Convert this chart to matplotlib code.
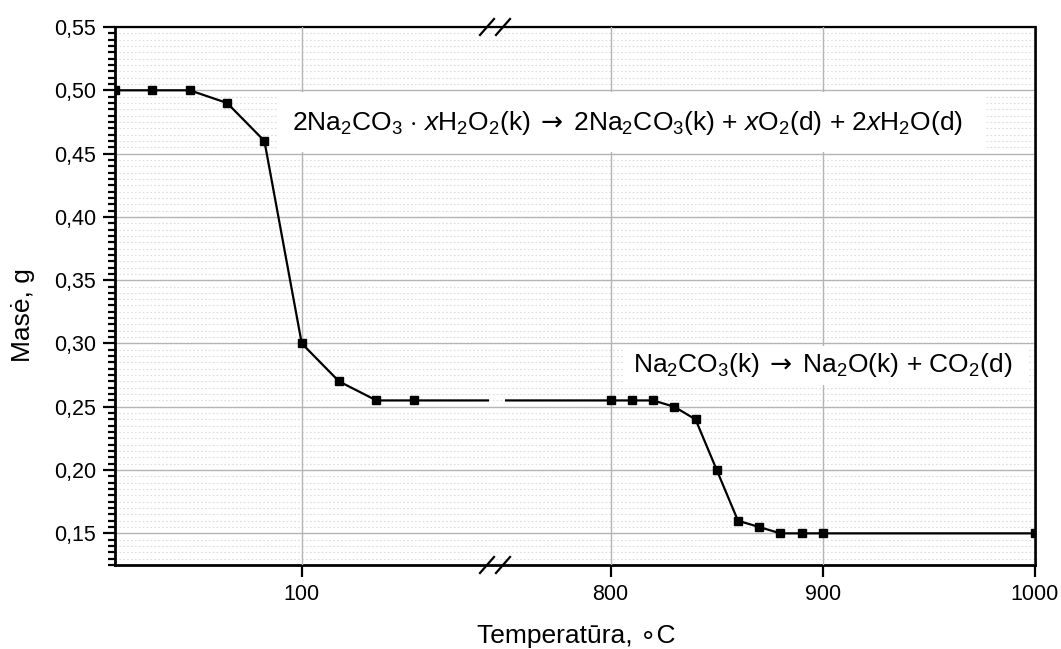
import matplotlib
matplotlib.use('Agg')
import matplotlib.pyplot as plt
from matplotlib.ticker import MultipleLocator, FuncFormatter
from matplotlib.lines import Line2D
from matplotlib.patches import Rectangle

plt.rcParams['font.family'] = ['Liberation Sans', 'DejaVu Sans']
plt.rcParams['mathtext.fontset'] = 'custom'
plt.rcParams['mathtext.rm'] = 'Liberation Sans'
plt.rcParams['mathtext.it'] = 'Liberation Sans:italic'
plt.rcParams['mathtext.sf'] = 'DejaVu Sans'

# data
temp = [50, 60, 70, 80, 90, 100, 110, 120, 130,
        800, 810, 820, 830, 840, 850, 860, 870, 880, 890, 900, 1000]
mass = [0.50, 0.50, 0.50, 0.49, 0.46, 0.30, 0.27, 0.255, 0.255,
        0.255, 0.255, 0.255, 0.25, 0.24, 0.20, 0.16, 0.155, 0.15, 0.15, 0.15, 0.15]
left_ticks = [100]
right_ticks = [800, 900, 1000]
arrow = r'$\;\mathsf{\rightarrow}\;$'
eq1 = (r'2Na$_2$CO$_3$ $\cdot$ $\it{x}$H$_2$O$_2$(k)' + arrow +
       r'2Na$_2$CO$_3$(k) + $\it{x}$O$_2$(d) + 2$\it{x}$H$_2$O(d)')
eq2 = r'Na$_2$CO$_3$(k)' + arrow + r'Na$_2$O(k) + CO$_2$(d)'

W, H = 1061, 649
def fx(px): return px / W
def fy(py): return 1 - py / H

fig = plt.figure(figsize=(W / 100, H / 100), dpi=100)

x0, x1, xg0, xg1 = 115, 1035, 488.5, 504.6
ytop, ybot = 27, 565
ymin, ymax = 0.125, 0.55

# background axes: frame + horizontal grid across the whole width
bg = fig.add_axes([fx(x0), fy(ybot), fx(x1 - x0), (ybot - ytop) / H])
bg.set_ylim(ymin, ymax)
bg.set_xlim(0, 1)
bg.yaxis.set_major_locator(MultipleLocator(0.05))
bg.yaxis.set_minor_locator(MultipleLocator(0.005))
bg.grid(which='major', axis='y', color='#b4b4b4', lw=1.0)
bg.grid(which='minor', axis='y', color='#dcdcdc', lw=0.8, ls=(0, (1.5, 2)))
bg.set_axisbelow(True)
bg.tick_params(which='both', left=False, bottom=False, labelleft=False, labelbottom=False)
for s in bg.spines.values():
    s.set_linewidth(2)
bg.spines['top'].set_linewidth(1.6)

fmt = FuncFormatter(lambda v, p: ('%.2f' % v).replace('.', ','))

axL = fig.add_axes([fx(x0), fy(ybot), fx(xg0 - x0), (ybot - ytop) / H])
axR = fig.add_axes([fx(xg1), fy(ybot), fx(x1 - xg1), (ybot - ytop) / H])
for ax in (axL, axR):
    ax.patch.set_alpha(0)
    for s in ax.spines.values():
        s.set_visible(False)
    ax.set_ylim(ymin, ymax)
    ax.plot(temp, mass, color='black', lw=1.6, marker='s', ms=5.5)
    ax.grid(which='major', axis='x', color='#b4b4b4', lw=1.0)
    ax.tick_params(axis='x', which='major', direction='out', length=8.5, width=1.6,
                   labelsize=15.5, pad=5)

axL.set_xlim(50, 150)
axL.set_xticks(left_ticks)
axL.yaxis.set_major_locator(MultipleLocator(0.05))
axL.yaxis.set_minor_locator(MultipleLocator(0.005))
axL.yaxis.set_major_formatter(fmt)
axL.tick_params(axis='y', which='major', direction='out', length=8.5, width=1.6,
                labelsize=15.5, pad=5)
axL.tick_params(axis='y', which='minor', direction='out', length=5, width=1.6)
axL.set_ylim(ymin, ymax)

axR.set_xlim(750, 1000)
axR.set_xticks(right_ticks)
axR.tick_params(axis='y', which='both', left=False, labelleft=False)

# break marks on top and bottom spine
for yc in (ytop, ybot):
    for xc in (487, 503):
        fig.add_artist(Line2D([fx(xc - 7), fx(xc + 7)], [fy(yc + 8), fy(yc - 8)],
                              color='black', lw=1.6))

# white boxes behind equations
fig.add_artist(Rectangle((fx(277), fy(152)), fx(985 - 277), (152 - 92) / H,
                         facecolor='white', edgecolor='none', zorder=2))
fig.add_artist(Rectangle((fx(624), fy(385)), fx(1028 - 624), (385 - 346) / H,
                         facecolor='white', edgecolor='none', zorder=2))
fig.text(fx(292), fy(130), eq1, fontsize=19, ha='left', va='baseline', zorder=3)
fig.text(fx(633), fy(372), eq2, fontsize=19, ha='left', va='baseline', zorder=3)

fig.text(fx(576), fy(643), 'Temperatūra, ∘C', fontsize=19, ha='center', va='baseline')
fig.text(fx(23), fy(315), 'Masė, g', fontsize=19, ha='center', va='center', rotation=90)

fig.savefig('out.png', dpi=100)
